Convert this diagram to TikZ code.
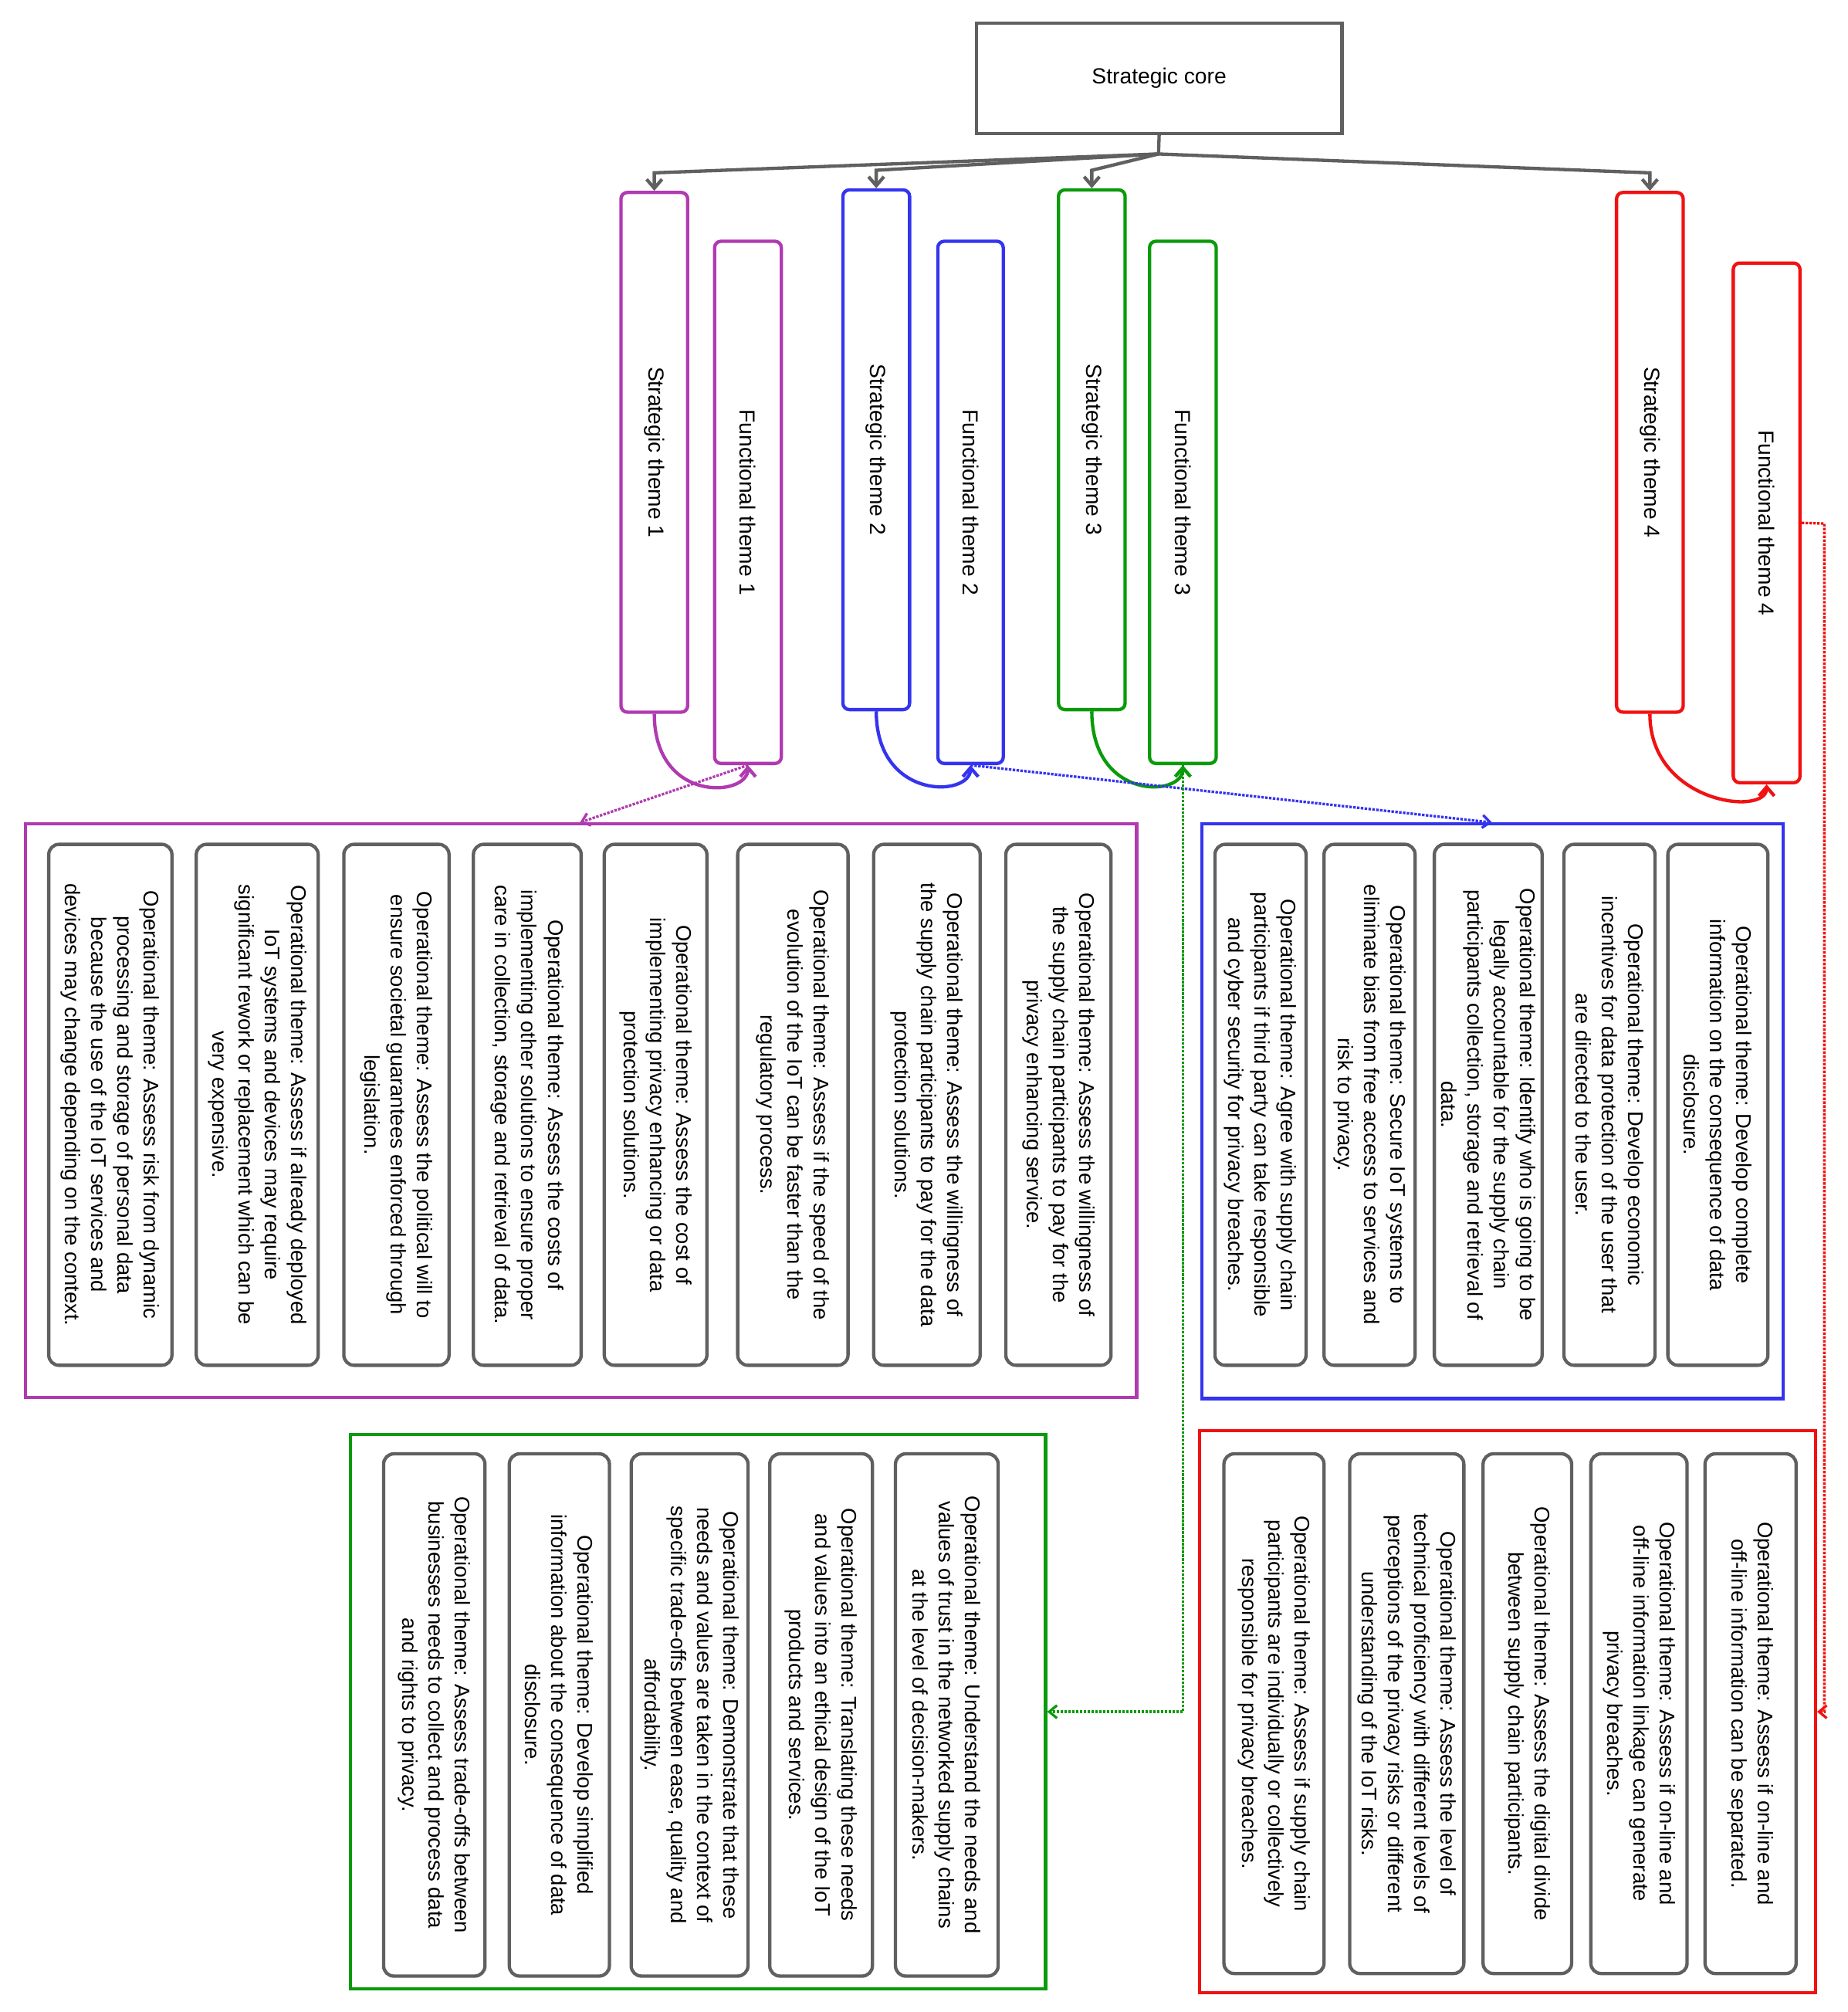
\documentclass[tikz,border=0pt]{standalone}
\usepackage{fontspec}
\setmainfont{Liberation Sans}
\usetikzlibrary{arrows.meta,calc}
\definecolor{cpur}{HTML}{B03AB0}
\definecolor{cblu}{HTML}{3434F0}
\definecolor{cgrn}{HTML}{0A9A0A}
\definecolor{cred}{HTML}{F01212}
\definecolor{cgry}{HTML}{606060}
\tikzset{
  rbox/.style={draw=cgry,line width=2.6pt,rounded corners=8pt,align=center,inner sep=0pt,
    font=\fontsize{16.5}{20.5}\selectfont},
  tbox/.style={line width=2.6pt,rounded corners=5pt,inner sep=0pt,font=\fontsize{17}{20}\selectfont},
  grp/.style={line width=2.6pt,inner sep=0pt},
  garr/.style={draw=cgry,line width=2.6pt,-{Straight Barb[length=7pt,width=12pt]}},
  carr/.style={line width=2.6pt,-{Straight Barb[length=7pt,width=12pt]}},
  darr/.style={line width=2pt,densely dotted,-{Straight Barb[length=6pt,width=10pt]}}
}
\newcommand\obx[7]{\node[rbox,minimum width={(#5-#4)*1pt},minimum height={(#3-#2)*1pt},rotate=-90] (#1) at ({(#2+#3)/2},{(#4+#5)/2}) {#7};}
\newcommand\thb[7]{\node[tbox,draw=#6,minimum width={(#5-#4)*1pt},minimum height={(#3-#2)*1pt},rotate=-90] (#1) at ({(#2+#3)/2},{(#4+#5)/2}) {#7};}
\newcommand\grb[6]{\node[grp,draw=#6,minimum width={(#3-#2)*1pt},minimum height={(#5-#4)*1pt}] (#1) at ({(#2+#3)/2},{(#4+#5)/2}) {};}
\begin{document}
\begin{tikzpicture}[x=1pt,y=-1pt]
\useasboundingbox (0,0) rectangle (1440,1568);
\node[draw=cgry,line width=2.6pt,minimum width=285pt,minimum height=86pt,font=\fontsize{17}{20}\selectfont] (core) at (903.5,61) {Strategic core};
\thb{st1}{484}{536}{150}{555}{cpur}{Strategic theme 1}
\thb{ft1}{557}{609}{188}{595}{cpur}{Functional theme 1}
\thb{st2}{657}{709}{148}{553}{cblu}{Strategic theme 2}
\thb{ft2}{731}{782}{188}{595}{cblu}{Functional theme 2}
\thb{st3}{825}{877}{148}{553}{cgrn}{Strategic theme 3}
\thb{ft3}{896}{948}{188}{595}{cgrn}{Functional theme 3}
\thb{st4}{1260}{1312}{150}{555}{cred}{Strategic theme 4}
\thb{ft4}{1351}{1403}{205}{610}{cred}{Functional theme 4}
\coordinate (fan) at (903,120);
\draw[draw=cgry,line width=2.6pt] (core.south) -- (fan);
\foreach \s in {st1,st2,st3,st4}{\draw[garr] (fan) -- ($(\s.west)+(0,-14)$) -- (\s.west);}
\draw[carr,cpur] (st1.east) .. controls +(0,70) and +(0,25) .. (ft1.east);
\draw[carr,cblu] (st2.east) .. controls +(0,70) and +(0,25) .. (ft2.east);
\draw[carr,cgrn] (st3.east) .. controls +(0,70) and +(0,25) .. (ft3.east);
\draw[carr,cred] (st4.east) .. controls +(0,70) and +(0,25) .. (ft4.east);
% groups
\grb{pg}{20}{886}{642}{1089}{cpur}
\grb{bg}{937}{1390}{642}{1090}{cblu}
\grb{gg}{273}{815}{1118}{1550}{cgrn}
\grb{rg}{935}{1415}{1115}{1553}{cred}
\coordinate (p1) at (452,641);
\coordinate (b1) at (1163,641);
\coordinate (r1) at (1422,408);
\coordinate (r2) at (1422,1334);
\draw[darr,cpur] (ft1.east) -- (p1);
\draw[darr,cblu] (ft2.east) -- (b1);
\draw[darr,cgrn] (ft3.east) -- (ft3.east |- gg.east) -- (gg.east);
\draw[darr,cred] (ft4.north) -- (r1) -- (r2) -- (rg.east);
% purple
\obx{pa}{784}{866}{658}{1064}{}{Operational theme: Assess the willingness of\\the supply chain participants to pay for the\\privacy enhancing service.}
\obx{pb}{681}{764}{658}{1064}{}{Operational theme: Assess the willingness of\\the supply chain participants to pay for the data\\protection solutions.}
\obx{pc}{575}{661}{658}{1064}{}{Operational theme: Assess if the speed of the\\evolution of the IoT can be faster than the\\regulatory process.}
\obx{pd}{471}{551}{658}{1064}{}{Operational theme: Assess the cost of\\implementing privacy enhancing or data\\protection solutions.}
\obx{pe}{369}{453}{658}{1064}{}{Operational theme: Assess the costs of\\implementing other solutions to ensure proper\\care in collection, storage and retrieval of data.}
\obx{pf}{268}{350}{658}{1064}{}{Operational theme: Assess the political will to\\ensure societal guarantees enforced through\\legislation.}
\obx{pgx}{153}{248}{658}{1064}{}{Operational theme: Assess if already deployed\\IoT systems and devices may require\\significant rework or replacement which can be\\very expensive.}
\obx{ph}{38}{134}{658}{1064}{}{Operational theme: Assess risk from dynamic\\processing and storage of personal data\\because the use of the IoT services and\\devices may change depending on the context.}
% blue
\obx{ba}{1300}{1378}{658}{1064}{}{Operational theme: Develop complete\\information on the consequence of data\\disclosure.}
\obx{bb}{1219}{1290}{658}{1064}{}{Operational theme: Develop economic\\incentives for data protection of the user that\\are directed to the user.}
\obx{bc}{1118}{1202}{658}{1064}{}{Operational theme: Identify who is going to be\\legally accountable for the supply chain\\participants collection, storage and retrieval of\\data.}
\obx{bd}{1032}{1103}{658}{1064}{}{Operational theme: Secure IoT systems to\\eliminate bias from free access to services and\\risk to privacy.}
\obx{be}{947}{1018}{658}{1064}{}{Operational theme: Agree with supply chain\\participants if third party can take responsible\\and cyber security for privacy breaches.}
% green
\obx{ga}{698}{778}{1133}{1540}{}{Operational theme: Understand the needs and\\values of trust in the networked supply chains\\at the level of decision-makers.}
\obx{gb}{600}{680}{1133}{1540}{}{Operational theme: Translating these needs\\and values into an ethical design of the IoT\\products and services.}
\obx{gc}{492}{583}{1133}{1540}{}{Operational theme: Demonstrate that these\\needs and values are taken in the context of\\specific trade-offs between ease, quality and\\affordability.}
\obx{gd}{397}{475}{1133}{1540}{}{Operational theme: Develop simplified\\information about the consequence of data\\disclosure.}
\obx{ge}{299}{378}{1133}{1540}{}{Operational theme: Assess trade-offs between\\businesses needs to collect and process data\\and rights to privacy.}
% red
\obx{ra}{1329}{1400}{1133}{1538}{}{Operational theme: Assess if on-line and\\off-line information can be separated.}
\obx{rb}{1240}{1315}{1133}{1538}{}{Operational theme: Assess if on-line and\\off-line information linkage can generate\\privacy breaches.}
\obx{rc}{1156}{1225}{1133}{1538}{}{Operational theme: Assess the digital divide\\between supply chain participants.}
\obx{rd}{1052}{1141}{1133}{1538}{}{Operational theme: Assess the level of\\technical proficiency with different levels of\\perceptions of the privacy risks or different\\understanding of the IoT risks.}
\obx{re}{954}{1032}{1133}{1538}{}{Operational theme: Assess if supply chain\\participants are individually or collectively\\responsible for privacy breaches.}
\end{tikzpicture}
\end{document}
